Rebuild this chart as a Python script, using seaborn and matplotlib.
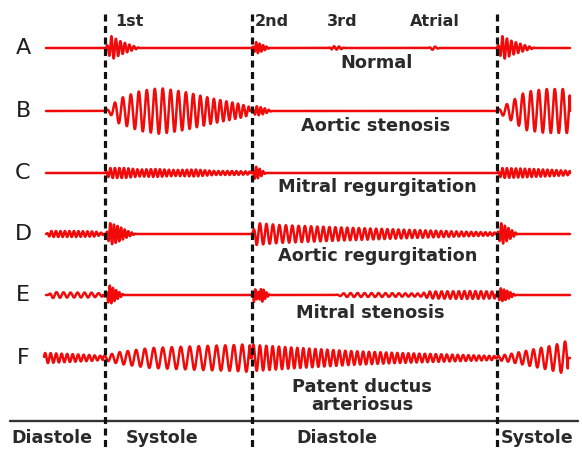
import numpy as np
import pandas as pd
import matplotlib
matplotlib.use("Agg")
import matplotlib.pyplot as plt
import seaborn as sns

# ---------------- data (pixel units) ----------------
ROW_LABELS = ["A", "B", "C", "D", "E", "F"]
ROW_Y = [48, 111, 173, 234, 295, 358]
TRACE_START = [46, 46, 46, 46, 46, 44]
TRACE_END = [570, 570, 570, 570, 570, 570]
CONDITIONS = ["Normal", "Aortic stenosis", "Mitral regurgitation",
              "Aortic regurgitation", "Mitral stenosis",
              "Patent ductus\narteriosus"]
CONDITION_Y = [63, 126, 187, 256, 313, 396]
CONDITION_X = [377, 376, 377, 378, 370, 362]
SOUND_LABELS = ["1st", "2nd", "3rd", "Atrial"]
SOUND_X = [115, 255, 327, 410]
DIVIDER_X = [105, 252, 497]
PHASE_LABELS = ["Diastole", "Systole", "Diastole", "Systole"]
PHASE_X = [11, 162, 337, 501]
PHASE_HA = ["left", "center", "center", "left"]

# each segment: (envelope x keypoints, amplitude keypoints, period keypoints px)
A_SEGMENTS = [
    ([106, 111, 120, 132, 140], [0, 12, 7, 2.5, 0], [4.5, 4.5, 4.5, 4.5, 4.5]),
    ([252, 256, 264, 270], [0, 6, 2.5, 0], [3.5, 3.5, 3.5, 3.5]),
    ([328, 333, 340, 345], [0, 1.8, 1.5, 0], [5, 5, 5, 5]),
    ([428, 433, 440], [0, 2.0, 0], [6, 6, 6]),
    ([497, 502, 512, 526, 535], [0, 12, 7, 2.5, 0], [4.5, 4.5, 4.5, 4.5, 4.5]),
]
B_SEGMENTS = [
    ([105, 110, 118, 140, 160, 185, 215, 240, 250], [0, 3, 12, 20, 23, 19, 12, 7, 4],
     [8, 8, 8, 8, 8, 7.5, 6.5, 5.5, 5]),
    ([252, 256, 264, 272], [0, 5, 3, 0], [4, 4, 4, 4]),
    ([497, 502, 512, 525, 545, 570], [0, 4, 10, 19, 22, 22], [8, 8, 8, 8, 8, 8]),
]
C_SEGMENTS = [
    ([105, 109, 125, 140, 155, 175, 195, 215, 235, 250], [0, 5, 5, 3.5, 4, 3, 3.5, 2, 2, 1.5],
     [4.5] * 10),
    ([252, 255, 260, 266], [0, 7, 4, 0], [3.5, 3.5, 3.5, 3.5]),
    ([497, 501, 520, 545, 565, 570], [0, 5, 4.5, 3.5, 2.5, 2], [4.5] * 6),
]
D_SEGMENTS = [
    ([46, 50, 75, 95, 103], [0, 3, 3, 2.5, 1], [4.5] * 5),
    ([106, 110, 118, 128, 136], [0, 11, 8, 3, 0], [3.6] * 5),
    ([252, 256, 280, 330, 400, 460, 495], [0, 11, 9, 7, 4.5, 2.5, 1.5],
     [6.5, 6.5, 6.5, 6, 5.5, 5, 4.5]),
    ([497, 501, 510, 518], [0, 11, 5, 0], [3.6] * 4),
]
E_SEGMENTS = [
    ([48, 52, 70, 90, 103], [0, 3, 2.5, 2.5, 1.5], [7] * 5),
    ([106, 109, 116, 124], [0, 10, 5, 0], [3.2] * 4),
    ([252, 254, 258, 262, 266, 270], [0, 7, 3, 7, 3, 0], [2.8] * 6),
    ([335, 345, 380, 420, 430, 470, 495], [0, 2, 2, 1.5, 3.5, 4, 3.5], [7, 7, 7, 6, 6, 5.5, 5.5]),
    ([497, 500, 508, 516], [0, 7, 4, 0], [3.2] * 4),
]
F_SEGMENTS = [
    ([44, 48, 70, 90, 103], [5, 5, 4, 3, 2], [5.5] * 5),
    ([103, 120, 150, 200, 235, 250], [2, 6, 10, 12, 13, 14], [7, 8, 9, 9, 8.5, 8]),
    ([252, 255, 300, 350, 400, 450, 495], [14, 13, 10, 7, 5, 3.5, 2], [6.5, 6.5, 6, 6, 5.5, 5.5, 5]),
    ([497, 510, 530, 550, 562, 568], [2, 4, 8, 12, 15, 18], [6, 7, 7.5, 8, 8, 8]),
]
ROW_SEGMENTS = [A_SEGMENTS, B_SEGMENTS, C_SEGMENTS, D_SEGMENTS, E_SEGMENTS, F_SEGMENTS]

# ---------------- build traces ----------------
frames = []
for label, y0, xs, xe, segs in zip(ROW_LABELS, ROW_Y, TRACE_START, TRACE_END, ROW_SEGMENTS):
    x = np.arange(xs, xe + 0.01, 0.2)
    disp = np.zeros_like(x)
    for ex, ea, ep in segs:
        ex = np.asarray(ex, float)
        env = np.interp(x, ex, ea, left=0, right=0)
        per = np.interp(x, ex, ep)
        inside = (x >= ex[0]) & (x <= ex[-1])
        cyc = np.cumsum(np.where(inside, 0.2 / per, 0.0))
        disp += np.where(inside, env * np.sin(2 * np.pi * cyc), 0.0)
    frames.append(pd.DataFrame({"x": x, "y": y0 - disp, "row": label}))
df = pd.concat(frames, ignore_index=True)

# ---------------- draw ----------------
sns.set_theme(style="white")
plt.rcParams["font.family"] = ["DejaVu Sans"]
fig = plt.figure(figsize=(5.82, 4.5), dpi=100)
ax = fig.add_axes([0, 0, 1, 1])

sns.lineplot(data=df, x="x", y="y", units="row", estimator=None,
             color="#f20a0a", linewidth=1.8, ax=ax, legend=False, sort=False)

for dx in DIVIDER_X:
    ax.plot([dx, dx], [14, 452], color="#111111", linewidth=2.3,
            dashes=(2.2, 1.4), solid_capstyle="butt", zorder=3)

ax.plot([10, 578], [421, 421], color="#333333", linewidth=1.7)

txt = "#1e1e1e"
for lab, y0 in zip(ROW_LABELS, ROW_Y):
    ax.text(23, y0, lab, fontsize=16, ha="center", va="center", color=txt)
for lab, cx, cy in zip(CONDITIONS, CONDITION_X, CONDITION_Y):
    ax.text(cx, cy, lab, fontsize=12.8, fontweight="bold", ha="center", va="center",
            color="#2a2a2a", linespacing=0.98)
for lab, sx in zip(SOUND_LABELS, SOUND_X):
    ax.text(sx, 22, lab, fontsize=11.5, fontweight="bold", ha="left", va="center",
            color="#2a2a2a")
for lab, px, ha in zip(PHASE_LABELS, PHASE_X, PHASE_HA):
    ax.text(px, 438, lab, fontsize=12.6, fontweight="bold", ha=ha, va="center",
            color="#2a2a2a")

ax.set_xlim(0, 582)
ax.set_ylim(450, 0)
ax.axis("off")
fig.savefig("out.png", dpi=100)
